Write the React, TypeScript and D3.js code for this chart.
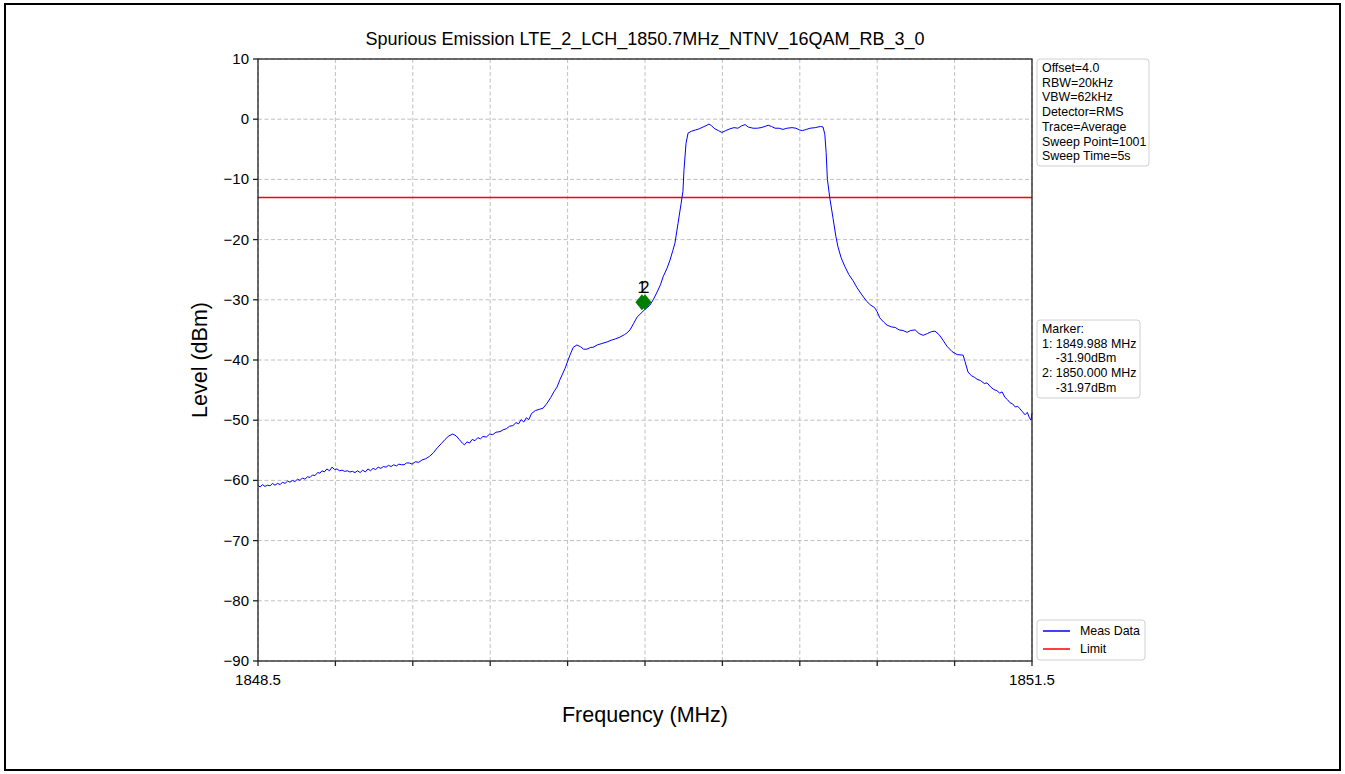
import React from "react";
import * as d3 from "d3";

const title = "Spurious Emission LTE_2_LCH_1850.7MHz_NTNV_16QAM_RB_3_0";
const xDomain = [1848.5, 1851.5];
const yDomain = [-90, 10];
const yTicks = [10, 0, -10, -20, -30, -40, -50, -60, -70, -80, -90];
const xGridTicks = [1848.5, 1848.8, 1849.1, 1849.4, 1849.7, 1850.0, 1850.3, 1850.6, 1850.9, 1851.2, 1851.5];
const xTickLabels = [1848.5, 1851.5];
const limitLevel = -13;

const markerFreqs = [1849.988, 1850.0];
const markerLevels = [-30.4, -30.4];
const markerNames = ["1", "2"];

const settingsText = ["Offset=4.0", "RBW=20kHz", "VBW=62kHz", "Detector=RMS", "Trace=Average", "Sweep Point=1001", "Sweep Time=5s"];
const markerText = ["Marker:", "1: 1849.988 MHz", "    -31.90dBm", "2: 1850.000 MHz", "    -31.97dBm"];
const legendNames = ["Meas Data", "Limit"];

const traceFreq = [
  1848.500, 1848.508, 1848.517, 1848.527, 1848.537, 1848.547, 1848.556, 1848.566, 1848.576, 1848.586,
  1848.595, 1848.605, 1848.615, 1848.624, 1848.634, 1848.643, 1848.653, 1848.663, 1848.672, 1848.682,
  1848.692, 1848.702, 1848.711, 1848.721, 1848.731, 1848.740, 1848.748, 1848.757, 1848.767, 1848.777,
  1848.787, 1848.797, 1848.806, 1848.816, 1848.826, 1848.836, 1848.846, 1848.856, 1848.866, 1848.876,
  1848.886, 1848.896, 1848.906, 1848.916, 1848.926, 1848.936, 1848.946, 1848.956, 1848.966, 1848.976,
  1848.986, 1848.996, 1849.006, 1849.016, 1849.026, 1849.036, 1849.046, 1849.056, 1849.066, 1849.076,
  1849.086, 1849.097, 1849.110, 1849.123, 1849.136, 1849.150, 1849.165, 1849.180, 1849.195, 1849.210,
  1849.225, 1849.240, 1849.255, 1849.268, 1849.280, 1849.292, 1849.300, 1849.310, 1849.320, 1849.330,
  1849.341, 1849.352, 1849.362, 1849.372, 1849.385, 1849.398, 1849.410, 1849.422, 1849.438, 1849.450,
  1849.463, 1849.475, 1849.488, 1849.500, 1849.510, 1849.520, 1849.530, 1849.540, 1849.550, 1849.560,
  1849.575, 1849.590, 1849.605, 1849.620, 1849.635, 1849.648, 1849.659, 1849.671, 1849.690, 1849.709,
  1849.722, 1849.736, 1849.750, 1849.762, 1849.775, 1849.790, 1849.798, 1849.815, 1849.830, 1849.853,
  1849.870, 1849.885, 1849.903, 1849.920, 1849.930, 1849.942, 1849.955, 1849.969, 1849.985, 1850.000,
  1850.019, 1850.033, 1850.047, 1850.060, 1850.070, 1850.085, 1850.097, 1850.108, 1850.116, 1850.128,
  1850.140, 1850.147, 1850.151, 1850.159, 1850.167, 1850.180, 1850.195, 1850.210, 1850.225, 1850.240,
  1850.248, 1850.258, 1850.271, 1850.285, 1850.298, 1850.313, 1850.329, 1850.345, 1850.360, 1850.375,
  1850.388, 1850.400, 1850.419, 1850.435, 1850.450, 1850.465, 1850.477, 1850.490, 1850.504, 1850.520,
  1850.535, 1850.550, 1850.570, 1850.585, 1850.600, 1850.610, 1850.625, 1850.640, 1850.660, 1850.680,
  1850.690, 1850.697, 1850.702, 1850.707, 1850.717, 1850.729, 1850.740, 1850.748, 1850.760, 1850.775,
  1850.790, 1850.806, 1850.822, 1850.841, 1850.860, 1850.875, 1850.890, 1850.900, 1850.910, 1850.925,
  1850.938, 1850.955, 1850.970, 1850.985, 1851.000, 1851.016, 1851.030, 1851.047, 1851.062, 1851.078,
  1851.095, 1851.110, 1851.124, 1851.140, 1851.155, 1851.170, 1851.190, 1851.210, 1851.233, 1851.240,
  1851.252, 1851.265, 1851.278, 1851.287, 1851.300, 1851.315, 1851.326, 1851.340, 1851.352, 1851.364,
  1851.375, 1851.384, 1851.395, 1851.405, 1851.415, 1851.425, 1851.435, 1851.445, 1851.453, 1851.463,
  1851.473, 1851.482, 1851.490, 1851.496, 1851.500,
];

const traceLevel = [
  -60.8, -61.1, -60.7, -61.0, -60.8, -60.9, -60.5, -60.8, -60.5, -60.7,
  -60.3, -60.5, -60.1, -60.3, -60.0, -60.2, -59.8, -60.0, -59.6, -59.8,
  -59.4, -59.5, -59.1, -59.2, -58.7, -58.8, -58.4, -58.6, -58.1, -58.4,
  -57.8, -58.2, -58.1, -58.4, -58.3, -58.5, -58.4, -58.6, -58.5, -58.7,
  -58.4, -58.7, -58.3, -58.6, -58.1, -58.4, -58.0, -58.2, -57.8, -58.0,
  -57.7, -57.8, -57.5, -57.7, -57.4, -57.6, -57.3, -57.4, -57.4, -57.1,
  -57.1, -57.3, -56.9, -57.0, -56.6, -56.4, -56.0, -55.4, -54.6, -53.9,
  -53.2, -52.6, -52.3, -52.6, -53.2, -53.8, -54.1, -53.6, -53.8, -53.2,
  -53.4, -52.9, -53.1, -52.7, -52.8, -52.3, -52.4, -52.0, -51.9, -51.6,
  -51.4, -51.0, -50.9, -50.4, -50.6, -49.9, -50.3, -49.6, -49.9, -48.9,
  -48.4, -48.2, -48.0, -47.2, -46.2, -45.2, -44.5, -43.2, -41.4, -39.2,
  -37.9, -37.5, -37.8, -38.2, -38.2, -37.9, -37.9, -37.5, -37.3, -37.0,
  -36.7, -36.5, -36.2, -35.8, -35.5, -35.0, -34.0, -32.9, -32.2, -31.6,
  -30.9, -29.9, -28.7, -27.5, -26.2, -24.8, -23.4, -21.8, -20.6, -17.3,
  -14.0, -12.0, -8.5, -4.0, -2.3, -2.0, -1.8, -1.6, -1.3, -1.0,
  -0.8, -1.1, -1.6, -1.9, -2.2, -1.9, -1.6, -1.4, -1.5, -1.1,
  -0.9, -1.3, -1.5, -1.5, -1.4, -1.2, -1.0, -1.2, -1.5, -1.5,
  -1.7, -1.5, -1.4, -1.5, -1.8, -1.9, -1.7, -1.5, -1.4, -1.2,
  -1.3, -2.5, -5.5, -10.0, -13.3, -16.5, -19.5, -21.2, -23.0, -24.5,
  -25.8, -26.8, -28.0, -29.2, -30.3, -30.9, -31.3, -32.0, -33.0, -33.7,
  -34.2, -34.5, -34.6, -35.0, -35.1, -35.4, -35.1, -35.0, -35.6, -35.9,
  -35.6, -35.3, -35.2, -35.8, -36.7, -37.7, -38.6, -39.1, -39.2, -40.2,
  -42.0, -42.6, -42.9, -43.2, -43.4, -43.9, -43.8, -44.5, -44.9, -45.1,
  -45.5, -45.3, -46.2, -46.6, -47.1, -47.3, -47.8, -47.7, -48.1, -48.6,
  -49.1, -48.7, -49.6, -50.0, -48.8,
];

const FONT = "'Liberation Sans', Arial, sans-serif";
const W = 1345;
const H = 774;
const plot = { left: 258, right: 1032, top: 59, bottom: 661 };

export default function App() {
  const x = d3.scaleLinear().domain(xDomain).range([plot.left, plot.right]);
  const y = d3.scaleLinear().domain(yDomain).range([plot.bottom, plot.top]);
  const pts: [number, number][] = traceFreq.map((f, i) => [f, traceLevel[i]]);
  const line = d3
    .line<[number, number]>()
    .x((d) => x(d[0]))
    .y((d) => y(d[1]));
  const fmt = (v: number) => (v < 0 ? "\u2212" + Math.abs(v) : String(v));

  const box1 = { x: 1037, y: 59, w: 112, h: 107 };
  const box2 = { x: 1037, y: 320, w: 103, h: 78 };
  const box3 = { x: 1037, y: 620, w: 108, h: 40 };
  const lh = 14.7;

  return (
    <svg
      width={W}
      height={H}
      style={{ position: "absolute", left: 0, top: 0, background: "#fff" }}
      fontFamily={FONT}
    >
      <rect x={0} y={0} width={W} height={H} fill="#fff" />
      <rect x={5} y={4} width={1335} height={766} fill="none" stroke="#000" strokeWidth={2} />

      {yTicks.map((t) => (
        <line key={"gy" + t} x1={plot.left} x2={plot.right} y1={y(t)} y2={y(t)} stroke="#b0b0b0" strokeWidth={0.8} strokeDasharray="4,2.5" />
      ))}
      {xGridTicks.map((t) => (
        <line key={"gx" + t} x1={x(t)} x2={x(t)} y1={plot.top} y2={plot.bottom} stroke="#b0b0b0" strokeWidth={0.8} strokeDasharray="4,2.5" />
      ))}

      <line x1={plot.left} x2={plot.right} y1={y(limitLevel)} y2={y(limitLevel)} stroke="#ff0000" strokeWidth={1.5} />

      <path d={line(pts) || ""} fill="none" stroke="#0000ff" strokeWidth={1} />

      {markerFreqs.map((f, i) => {
        const cx = x(f);
        const cy = y(markerLevels[i]);
        return (
          <g key={"m" + i}>
            <path d={`M${cx},${cy - 8} L${cx + 6.5},${cy} L${cx},${cy + 8} L${cx - 6.5},${cy} Z`} fill="#007f00" />
            <text x={cx} y={cy - 9} textAnchor="middle" fontSize={16} fill="#000">
              {markerNames[i]}
            </text>
          </g>
        );
      })}

      <rect x={plot.left} y={plot.top} width={plot.right - plot.left} height={plot.bottom - plot.top} fill="none" stroke="#222" strokeWidth={1.3} />

      {yTicks.map((t) => (
        <g key={"ty" + t}>
          <line x1={plot.left - 5} x2={plot.left} y1={y(t)} y2={y(t)} stroke="#222" strokeWidth={1.3} />
          <text x={plot.left - 9} y={y(t) + 5} textAnchor="end" fontSize={15} fill="#000">
            {fmt(t)}
          </text>
        </g>
      ))}
      {xGridTicks.map((t) => (
        <line key={"tx" + t} x1={x(t)} x2={x(t)} y1={plot.bottom} y2={plot.bottom + 5} stroke="#222" strokeWidth={1.3} />
      ))}
      {xTickLabels.map((t) => (
        <text key={"lx" + t} x={x(t)} y={685} textAnchor="middle" fontSize={15} fill="#000">
          {t.toFixed(1)}
        </text>
      ))}

      <text x={(plot.left + plot.right) / 2} y={45} textAnchor="middle" fontSize={18} fill="#000">
        {title}
      </text>
      <text x={(plot.left + plot.right) / 2} y={722} textAnchor="middle" fontSize={21.5} fill="#000">
        Frequency (MHz)
      </text>
      <text transform={`translate(207, ${(plot.top + plot.bottom) / 2}) rotate(-90)`} textAnchor="middle" fontSize={21.5} fill="#000">
        Level (dBm)
      </text>

      <rect x={box1.x} y={box1.y} width={box1.w} height={box1.h} rx={3} fill="#fff" stroke="#d0d0d0" strokeWidth={1} />
      {settingsText.map((s, i) => (
        <text key={"s" + i} x={box1.x + 5} y={box1.y + 13 + i * lh} fontSize={12.4} fill="#000">
          {s}
        </text>
      ))}

      <rect x={box2.x} y={box2.y} width={box2.w} height={box2.h} rx={3} fill="#fff" stroke="#d0d0d0" strokeWidth={1} />
      {markerText.map((s, i) => (
        <text key={"mk" + i} x={box2.x + 5} y={box2.y + 13 + i * lh} fontSize={12.4} fill="#000" style={{ whiteSpace: "pre" }}>
          {s}
        </text>
      ))}

      <rect x={box3.x} y={box3.y} width={box3.w} height={box3.h} rx={3} fill="#fff" stroke="#d0d0d0" strokeWidth={1} />
      {legendNames.map((n, i) => (
        <g key={"lg" + i}>
          <line x1={box3.x + 6} x2={box3.x + 33} y1={box3.y + 11 + i * 18} y2={box3.y + 11 + i * 18} stroke={i === 0 ? "#0000ff" : "#ff0000"} strokeWidth={1.5} />
          <text x={box3.x + 43} y={box3.y + 15 + i * 18} fontSize={12.4} fill="#000">
            {n}
          </text>
        </g>
      ))}
    </svg>
  );
}
